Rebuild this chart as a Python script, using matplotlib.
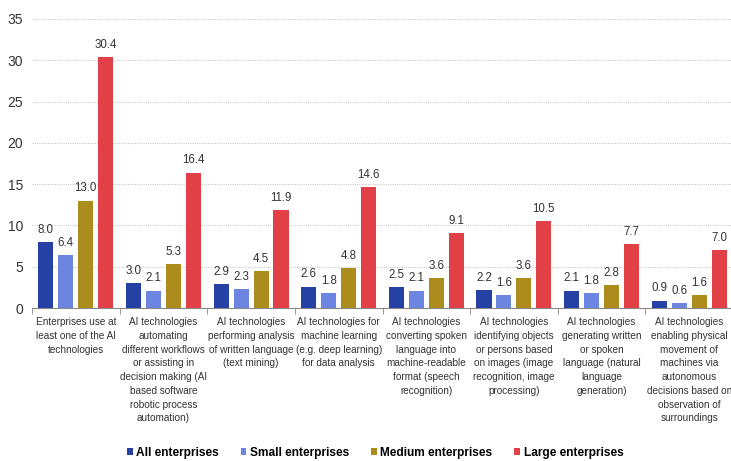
import matplotlib
matplotlib.use("Agg")
import matplotlib.pyplot as plt
import numpy as np

plt.rcParams["font.family"] = ["Liberation Sans", "DejaVu Sans"]

categories = [
    "Enterprises use at\nleast one of the AI\ntechnologies",
    "AI technologies\nautomating\ndifferent workflows\nor assisting in\ndecision making (AI\nbased software\nrobotic process\nautomation)",
    "AI technologies\nperforming analysis\nof written language\n(text mining)",
    "AI technologies for\nmachine learning\n(e.g. deep learning)\nfor data analysis",
    "AI technologies\nconverting spoken\nlanguage into\nmachine-readable\nformat (speech\nrecognition)",
    "AI technologies\nidentifying objects\nor persons based\non images (image\nrecognition, image\nprocessing)",
    "AI technologies\ngenerating written\nor spoken\nlanguage (natural\nlanguage\ngeneration)",
    "AI technologies\nenabling physical\nmovement of\nmachines via\nautonomous\ndecisions based on\nobservation of\nsurroundings",
]
series_names = ["All enterprises", "Small enterprises", "Medium enterprises", "Large enterprises"]
all_ent = [8.0, 3.0, 2.9, 2.6, 2.5, 2.2, 2.1, 0.9]
small_ent = [6.4, 2.1, 2.3, 1.8, 2.1, 1.6, 1.8, 0.6]
medium_ent = [13.0, 5.3, 4.5, 4.8, 3.6, 3.6, 2.8, 1.6]
large_ent = [30.4, 16.4, 11.9, 14.6, 9.1, 10.5, 7.7, 7.0]
colors = ["#2541a3", "#6b85e0", "#ad8c1e", "#e14146"]

fig = plt.figure(figsize=(7.31, 4.61), dpi=100)
ax = fig.add_axes([32 / 731, 153 / 461, 701 / 731, 289 / 461])

x = np.arange(len(categories))
width = 0.172
step = 0.228
for i, (vals, c) in enumerate(zip([all_ent, small_ent, medium_ent, large_ent], colors)):
    pos = x + (i - 1.5) * step
    bars = ax.bar(pos, vals, width=width, color=c, label=series_names[i], zorder=3)
    for b, v in zip(bars, vals):
        ax.text(b.get_x() + b.get_width() / 2, v + 0.75, f"{v:.1f}", ha="center",
                va="bottom", fontsize=8.3, color="#333333")

ax.set_xlim(-0.5, len(categories) - 0.5)
ax.set_ylim(0, 35)
ax.set_yticks(np.arange(0, 36, 5))
ax.yaxis.grid(True, linestyle=(0, (1, 1)), color="#cccccc", linewidth=0.8, zorder=0)
ax.set_axisbelow(True)
for s in ["top", "right", "left"]:
    ax.spines[s].set_visible(False)
ax.spines["bottom"].set_color("#888888")
ax.tick_params(axis="y", length=0, labelsize=10, pad=6.5, labelcolor="#333333")

ax.set_xticks(x)
ax.set_xticklabels(categories, fontsize=7.2, color="#333333", linespacing=1.47)
ax.tick_params(axis="x", length=0, pad=6.5)
ax.set_xticks(np.arange(-0.5, len(categories)), minor=True)
ax.tick_params(axis="x", which="minor", length=4, color="#888888")

fig.legend(loc="center", bbox_to_anchor=(375 / 731, 8 / 461), ncol=4,
           frameon=False, handlelength=0.5, handleheight=0.5, handletextpad=0.3,
           columnspacing=1.8, prop={"weight": "bold", "size": 8.6})

fig.savefig("out.png", dpi=100)
